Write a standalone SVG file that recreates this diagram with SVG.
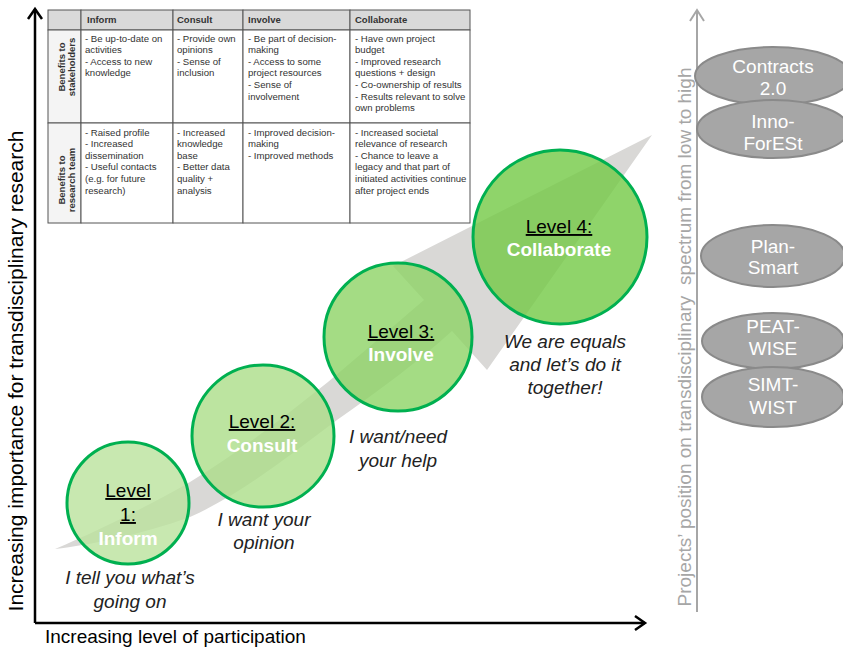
<svg xmlns="http://www.w3.org/2000/svg" width="843" height="648" viewBox="0 0 843 648">
<style>
.t{font-family:"Liberation Sans",Arial,sans-serif;font-size:9.6px;fill:#333}
.th{font-family:"Liberation Sans",Arial,sans-serif;font-size:9.5px;font-weight:bold;fill:#333}
.cell{fill:#fff;stroke:#555;stroke-width:1}
.hd{fill:#d9d9d9;stroke:#555;stroke-width:1}
.rh{fill:#f4f4f4;stroke:#555;stroke-width:1}
.circ{stroke:#00b050;stroke-width:3;fill-opacity:0.8}
.lv{font-family:"Liberation Sans",Arial,sans-serif;font-size:19px;fill:#000;text-anchor:middle;text-decoration:underline}
.nm{font-family:"Liberation Sans",Arial,sans-serif;font-size:19px;font-weight:bold;fill:#fff;text-anchor:middle}
.it{font-family:"Liberation Sans",Arial,sans-serif;font-size:19px;font-style:italic;fill:#222;text-anchor:middle}
.el{fill:#a6a6a6;stroke:#8a8a8a;stroke-width:2}
.et{font-family:"Liberation Sans",Arial,sans-serif;font-size:19px;fill:#fff;text-anchor:middle}
.ax{font-family:"Liberation Sans",Arial,sans-serif;font-size:19.5px;fill:#000}
</style>

<g id="connectors">
  <path id="progress-arrow" d="M55,549 C100,530 150,505 190,482 C240,452 290,412 328,382 C360,355 395,325 424,300 L393,266 L652,135 L487,370 L452,331 C420,360 380,390 337,420 C290,455 240,495 190,517 C140,535 90,545 55,549 Z" fill="#d9d8d6"/>
  <g id="axes" fill="none" stroke="#000" stroke-width="2.5">
    <line x1="35" y1="623" x2="35" y2="9"/>
    <polyline points="28,19 35,9 42,19"/>
    <line x1="35" y1="623" x2="645" y2="623"/>
    <polyline points="635,616 645,623 635,630"/>
  </g>
  <g id="spectrum-axis" fill="none" stroke="#a6a6a6" stroke-width="2">
    <line x1="697" y1="612" x2="697" y2="10"/>
    <polyline points="690,21 697,10 704,21"/>
  </g>
</g>

<g id="table">
  <rect class="hd" x="48" y="10" width="33" height="20"/>
  <rect class="hd" x="81" y="10" width="92" height="20"/>
  <rect class="hd" x="173" y="10" width="70" height="20"/>
  <rect class="hd" x="243" y="10" width="107" height="20"/>
  <rect class="hd" x="350" y="10" width="120" height="20"/>
  <rect class="rh" x="48" y="30" width="33" height="93"/>
  <rect class="cell" x="81" y="30" width="92" height="93"/>
  <rect class="cell" x="173" y="30" width="70" height="93"/>
  <rect class="cell" x="243" y="30" width="107" height="93"/>
  <rect class="cell" x="350" y="30" width="120" height="93"/>
  <rect class="rh" x="48" y="123" width="33" height="100"/>
  <rect class="cell" x="81" y="123" width="92" height="100"/>
  <rect class="cell" x="173" y="123" width="70" height="100"/>
  <rect class="cell" x="243" y="123" width="107" height="100"/>
  <rect class="cell" x="350" y="123" width="120" height="100"/>
  <text class="th" x="87" y="23">Inform</text>
  <text class="th" x="177" y="23">Consult</text>
  <text class="th" x="248" y="23">Involve</text>
  <text class="th" x="355" y="23">Collaborate</text>
  <text class="th" transform="translate(64.5,67) rotate(-90)" text-anchor="middle">Benefits to</text>
  <text class="th" transform="translate(74.5,67) rotate(-90)" text-anchor="middle">stakeholders</text>
  <text class="th" transform="translate(64.5,180) rotate(-90)" text-anchor="middle">Benefits to</text>
  <text class="th" transform="translate(74.5,180) rotate(-90)" text-anchor="middle">research team</text>
  <text class="t" x="85" y="41.5"><tspan x="85">- Be up-to-date on</tspan><tspan x="85" dy="11.6">activities</tspan><tspan x="85" dy="11.6">- Access to new</tspan><tspan x="85" dy="11.6">knowledge</tspan></text>
  <text class="t" x="177" y="41.5"><tspan x="177">- Provide own</tspan><tspan x="177" dy="11.6">opinions</tspan><tspan x="177" dy="11.6">- Sense of</tspan><tspan x="177" dy="11.6">inclusion</tspan></text>
  <text class="t" x="248" y="41.5"><tspan x="248">- Be part of decision-</tspan><tspan x="248" dy="11.6">making</tspan><tspan x="248" dy="11.6">- Access to some</tspan><tspan x="248" dy="11.6">project resources</tspan><tspan x="248" dy="11.6">- Sense of</tspan><tspan x="248" dy="11.6">involvement</tspan></text>
  <text class="t" x="355" y="41.5"><tspan x="355">- Have own project</tspan><tspan x="355" dy="11.6">budget</tspan><tspan x="355" dy="11.6">- Improved research</tspan><tspan x="355" dy="11.6">questions + design</tspan><tspan x="355" dy="11.6">- Co-ownership of results</tspan><tspan x="355" dy="11.6">- Results relevant to solve</tspan><tspan x="355" dy="11.6">own problems</tspan></text>
  <text class="t" x="85" y="135.5"><tspan x="85">- Raised profile</tspan><tspan x="85" dy="11.6">- Increased</tspan><tspan x="85" dy="11.6">dissemination</tspan><tspan x="85" dy="11.6">- Useful contacts</tspan><tspan x="85" dy="11.6">(e.g. for future</tspan><tspan x="85" dy="11.6">research)</tspan></text>
  <text class="t" x="177" y="135.5"><tspan x="177">- Increased</tspan><tspan x="177" dy="11.6">knowledge</tspan><tspan x="177" dy="11.6">base</tspan><tspan x="177" dy="11.6">- Better data</tspan><tspan x="177" dy="11.6">quality +</tspan><tspan x="177" dy="11.6">analysis</tspan></text>
  <text class="t" x="248" y="135.5"><tspan x="248">- Improved decision-</tspan><tspan x="248" dy="11.6">making</tspan><tspan x="248" dy="11.6">- Improved methods</tspan></text>
  <text class="t" x="355" y="135.5"><tspan x="355">- Increased societal</tspan><tspan x="355" dy="11.6">relevance of research</tspan><tspan x="355" dy="11.6">- Chance to leave a</tspan><tspan x="355" dy="11.6">legacy and that part of</tspan><tspan x="355" dy="11.6">initiated activities continue</tspan><tspan x="355" dy="11.6">after project ends</tspan></text>
</g>

<g id="level1">
  <circle class="circ" cx="128" cy="503" r="61" fill="#bae29c"/>
  <text class="lv" x="128" y="497">Level</text>
  <text class="lv" x="128" y="521">1:</text>
  <text class="nm" x="128" y="545">Inform</text>
  <text class="it" x="130" y="584">I tell you what’s</text>
  <text class="it" x="130" y="608">going on</text>
</g>
<g id="level2">
  <circle class="circ" cx="263" cy="436" r="71" fill="#abdd88"/>
  <text class="lv" x="262" y="428">Level 2:</text>
  <text class="nm" x="262" y="452">Consult</text>
  <text class="it" x="264" y="526">I want your</text>
  <text class="it" x="264" y="549">opinion</text>
</g>
<g id="level3">
  <circle class="circ" cx="398" cy="337" r="74" fill="#8dd365"/>
  <text class="lv" x="401" y="338">Level 3:</text>
  <text class="nm" x="401" y="361">Involve</text>
  <text class="it" x="398" y="443">I want/need</text>
  <text class="it" x="398" y="467">your help</text>
</g>
<g id="level4">
  <circle class="circ" cx="560" cy="237" r="87" fill="#73c945"/>
  <text class="lv" x="559" y="233">Level 4:</text>
  <text class="nm" x="559" y="256">Collaborate</text>
  <text class="it" x="565" y="348">We are equals</text>
  <text class="it" x="565" y="371">and let’s do it</text>
  <text class="it" x="565" y="394">together!</text>
</g>

<g id="projects">
  <g id="contracts"><ellipse class="el" cx="773" cy="76" rx="78" ry="29"/><text class="et" x="773" y="73">Contracts</text><text class="et" x="773" y="95">2.0</text></g>
  <g id="innoforest"><ellipse class="el" cx="773" cy="129" rx="76" ry="29"/><text class="et" x="773" y="128">Inno-</text><text class="et" x="773" y="150">ForESt</text></g>
  <g id="plansmart"><ellipse class="el" cx="773" cy="256" rx="72" ry="31"/><text class="et" x="773" y="253">Plan-</text><text class="et" x="773" y="274">Smart</text></g>
  <g id="peatwise"><ellipse class="el" cx="773" cy="341" rx="71" ry="28"/><text class="et" x="773" y="333">PEAT-</text><text class="et" x="773" y="355">WISE</text></g>
  <g id="simtwist"><ellipse class="el" cx="773" cy="397" rx="71" ry="30"/><text class="et" x="773" y="391">SIMT-</text><text class="et" x="773" y="414">WIST</text></g>
</g>

<g id="axis-labels">
  <text class="ax" style="font-size:19px" x="45" y="643">Increasing level of participation</text>
  <text class="ax" style="font-size:21px" text-anchor="middle" transform="translate(23,371) rotate(-90)">Increasing importance for transdisciplinary research</text>
  <text class="ax" style="font-size:19px;fill:#a6a6a6" xml:space="preserve" text-anchor="middle" transform="translate(691,337) rotate(-90)">Projects’ position on transdisciplinary  spectrum from low to high</text>
</g>
</svg>
